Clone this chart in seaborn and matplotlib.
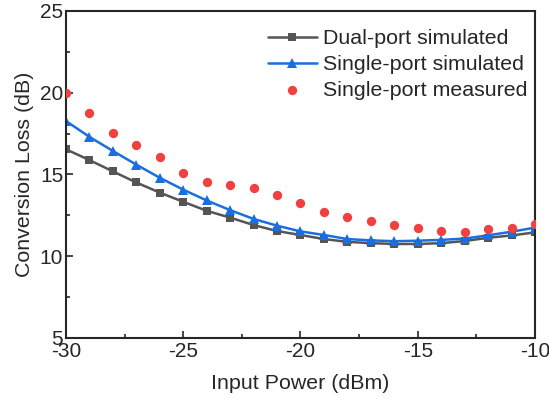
import numpy as np
import pandas as pd
import matplotlib
matplotlib.use("Agg")
import matplotlib.pyplot as plt
import seaborn as sns
from matplotlib.ticker import MultipleLocator

# Du lieu doc tu hinh
input_power = list(range(-30, -9))
dual_sim = [16.54, 15.88, 15.19, 14.51, 13.89, 13.33, 12.78, 12.36, 11.91, 11.54, 11.3,
            11.05, 10.88, 10.8, 10.75, 10.75, 10.8, 10.93, 11.13, 11.27, 11.46]
single_sim = [18.27, 17.3, 16.44, 15.6, 14.8, 14.07, 13.41, 12.82, 12.28, 11.87, 11.52,
              11.3, 11.05, 10.97, 10.92, 10.95, 11.0, 11.08, 11.28, 11.5, 11.75]
single_meas = [19.98, 18.77, 17.55, 16.83, 16.05, 15.1, 14.57, 14.34, 14.15, 13.75, 13.23,
               12.73, 12.4, 12.15, 11.9, 11.73, 11.57, 11.48, 11.65, 11.7, 11.98]

sns.set_style("ticks", {"xtick.direction": "in", "ytick.direction": "in"})
plt.rcParams['font.family'] = ['Liberation Sans', 'DejaVu Sans']
plt.rcParams['axes.unicode_minus'] = False

fig = plt.figure(figsize=(5.49, 4.04), dpi=100)
ax = fig.add_axes([0.1202, 0.1634, 0.8543, 0.8094])

sns.lineplot(x=input_power, y=dual_sim, ax=ax, color='#555555', lw=1.8,
             marker='s', markersize=5.5, markeredgewidth=0, label='Dual-port simulated')
sns.lineplot(x=input_power, y=single_sim, ax=ax, color='#1a6fdf', lw=1.8,
             marker='^', markersize=7.5, markeredgewidth=0, label='Single-port simulated')
sns.scatterplot(x=input_power, y=single_meas, ax=ax, color='#f04040', s=45,
                linewidth=0, label='Single-port measured', zorder=3)

ax.set_xlim(-30, -10)
ax.set_ylim(5, 25)
ax.xaxis.set_major_locator(MultipleLocator(5))
ax.xaxis.set_minor_locator(MultipleLocator(2.5))
ax.yaxis.set_major_locator(MultipleLocator(5))
ax.yaxis.set_minor_locator(MultipleLocator(2.5))
ax.tick_params(which='both', direction='in', labelsize=15, width=1.2)
ax.tick_params(which='major', length=5)
ax.tick_params(which='minor', length=3)
ax.tick_params(axis='x', pad=3)
ax.tick_params(axis='y', pad=2)
for s in ax.spines.values():
    s.set_linewidth(1.5)
    s.set_visible(True)

ax.set_xlabel('Input Power (dBm)', fontsize=15.4, labelpad=9)
ax.set_ylabel('Conversion Loss (dB)', fontsize=15.4, labelpad=4)

ax.legend(loc='upper right', bbox_to_anchor=(0.983, 0.944), frameon=False,
          fontsize=15.4, handlelength=2.25, handletextpad=0.28, labelspacing=0.32,
          borderaxespad=0, borderpad=0)

fig.savefig("out.png", dpi=100)
